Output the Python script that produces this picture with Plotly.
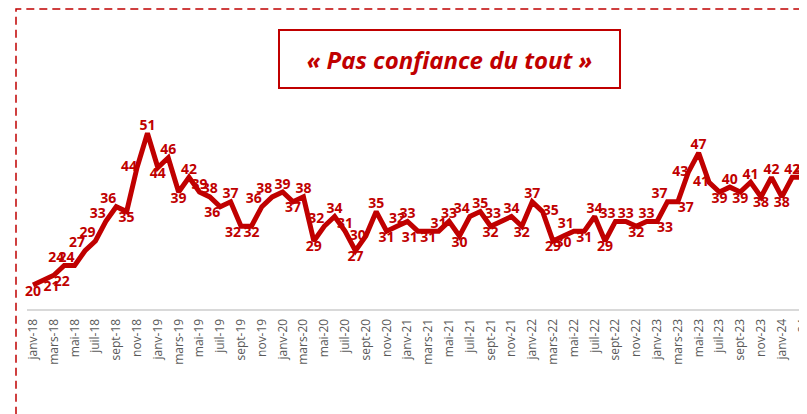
import plotly.graph_objects as go

# Données mensuelles : « Pas confiance du tout » (%)
mois = [
    "janv-18", "févr-18", "mars-18", "avr-18", "mai-18", "juin-18",
    "juil-18", "août-18", "sept-18", "oct-18", "nov-18", "déc-18",
    "janv-19", "févr-19", "mars-19", "avr-19", "mai-19", "juin-19",
    "juil-19", "août-19", "sept-19", "oct-19", "nov-19", "déc-19",
    "janv-20", "févr-20", "mars-20", "avr-20", "mai-20", "juin-20",
    "juil-20", "août-20", "sept-20", "oct-20", "nov-20", "déc-20",
    "janv-21", "févr-21", "mars-21", "avr-21", "mai-21", "juin-21",
    "juil-21", "août-21", "sept-21", "oct-21", "nov-21", "déc-21",
    "janv-22", "févr-22", "mars-22", "avr-22", "mai-22", "juin-22",
    "juil-22", "août-22", "sept-22", "oct-22", "nov-22", "déc-22",
    "janv-23", "févr-23", "mars-23", "avr-23", "mai-23", "juin-23",
    "juil-23", "août-23", "sept-23", "oct-23", "nov-23", "déc-23",
    "janv-24", "févr-24", "mars-24",
]

valeurs_2018 = [20, 21, 22, 24, 24, 27, 29, 33, 36, 35, 44, 51]
valeurs_2019 = [44, 46, 39, 42, 39, 38, 36, 37, 32, 32, 36, 38]
valeurs_2020 = [39, 37, 38, 29, 32, 34, 31, 27, 30, 35, 31, 32]
valeurs_2021 = [33, 31, 31, 31, 33, 30, 34, 35, 32, 33, 34, 32]
valeurs_2022 = [37, 35, 29, 30, 31, 31, 34, 29, 33, 33, 32, 33]
valeurs_2023 = [33, 37, 37, 43, 47, 41, 39, 40, 39, 41, 38, 42]
valeurs_2024 = [38, 42, 42]

valeurs = (valeurs_2018 + valeurs_2019 + valeurs_2020 + valeurs_2021
           + valeurs_2022 + valeurs_2023 + valeurs_2024)

# une étiquette d'axe sur deux
ticks_affiches = mois[::2]

ROUGE = "#C00000"

# position des étiquettes de données (imite le placement Excel)
T, B, TL, TR, BL, BR, ML, MR = ("top center", "bottom center", "top left",
                                "top right", "bottom left", "bottom right",
                                "middle left", "middle right")
positions = [
    B, BR, BR, TL, TL, TL, TL, TL, TL, B, ML, T,
    B, T, B, T, T, T, BL, T, BL, B, TL, TL,
    T, B, T, B, TL, T, T, B, ML, T, B, T,
    T, BL, B, T, T, B, TL, T, B, TL, T, B,
    T, MR, B, B, TL, B, T, B, TL, T, B, T,
    BR, TL, BR, ML, T, ML, B, T, B, T, B, T,
    B, T, T,
]

fig = go.Figure(
    go.Scatter(
        x=mois,
        y=valeurs,
        mode="lines+text",
        line=dict(color=ROUGE, width=5),
        text=[str(v) for v in valeurs],
        textposition=positions,
        textfont=dict(family="Open Sans", size=14, color=ROUGE, weight="bold"),
        cliponaxis=False,
        hoverinfo="x+y",
    )
)

# cadre pointillé autour du graphique
fig.add_shape(
    type="rect", xref="paper", yref="paper",
    x0=-0.0141, x1=1.05, y0=-0.6, y1=1.435,
    line=dict(color=ROUGE, width=1.5, dash="8px,5px"),
    layer="below",
)

# titre encadré
fig.add_annotation(
    xref="paper", yref="paper", x=0.542, y=1.196,
    xanchor="center", yanchor="middle",
    text="<b><i>« Pas confiance du tout »</i></b>",
    showarrow=False,
    font=dict(family="Open Sans", size=24, color=ROUGE),
    bordercolor=ROUGE, borderwidth=2,
    width=337, height=54, bgcolor="white",
)

# la page html ajoute 8 px de marge : la figure fait donc 799 x 406
fig.update_layout(
    width=799,
    height=406,
    margin=dict(l=19, r=0, t=92, b=105),
    plot_bgcolor="white",
    paper_bgcolor="white",
    showlegend=False,
    xaxis=dict(
        type="category",
        range=[-0.58, 74.42],
        tickmode="array",
        tickvals=ticks_affiches,
        ticktext=ticks_affiches,
        tickangle=-90,
        tickfont=dict(family="Open Sans", size=12, color="#595959"),
        ticklabelstandoff=3,
        showline=True,
        linecolor="#D9D9D9",
        linewidth=2,
        showgrid=False,
        ticks="",
        automargin=False,
    ),
    yaxis=dict(
        range=[15.1, 57.8],
        visible=False,
        showgrid=False,
    ),
)

fig.write_html("out.html")
